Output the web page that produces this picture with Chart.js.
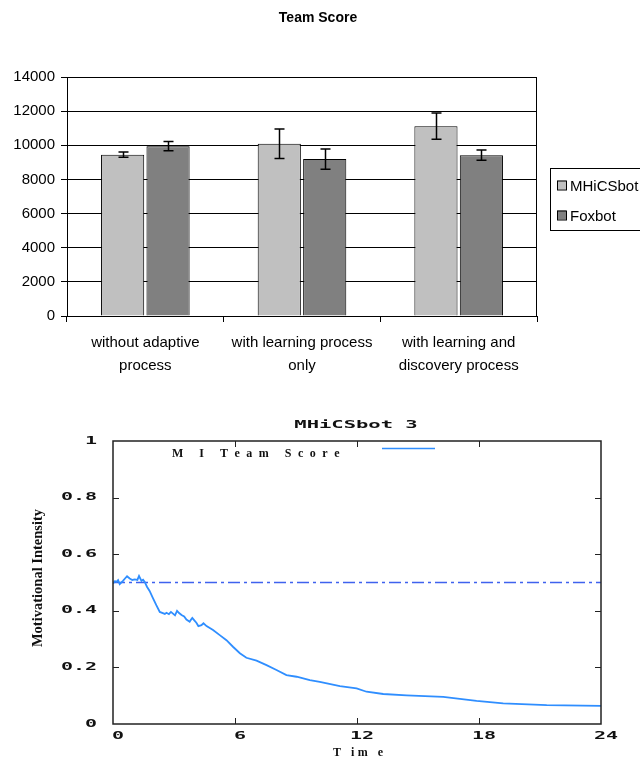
<!DOCTYPE html>
<html>
<head>
<meta charset="utf-8">
<script src="https://cdn.jsdelivr.net/npm/chart.js"></script>
<style>
  body { margin: 0; background: #fff; }
  #wrap { position: relative; width: 640px; height: 760px; }
  canvas { position: absolute; left: 0; }
  #teamChart { top: 0; }
  #miChart { top: 390px; }
</style>
</head>
<body>
<div id="wrap">
  <canvas id="teamChart" width="640" height="390"></canvas>
  <canvas id="miChart" width="640" height="370"></canvas>
</div>
<script>
// top chart data
const categories = [
  ['without adaptive', 'process'],
  ['with learning process', 'only'],
  ['with learning and', 'discovery process']
];
const seriesNames = ['MHiCSbot', 'Foxbot'];
const mhicsScores = [9450, 10090, 11120];
const mhicsErrors = [150, 860, 770];
const foxScores = [9950, 9190, 9420];
const foxErrors = [270, 590, 300];

// bottom chart data
const timeValues = [0, 0.1, 0.17, 0.25, 0.33, 0.49, 0.6, 0.69, 0.82, 0.95, 1.07, 1.2, 1.28, 1.4, 1.48, 1.56, 1.67, 1.8,
  1.97, 2.13, 2.3, 2.45, 2.55, 2.63, 2.75, 2.85, 2.95, 3.05, 3.15, 3.25, 3.37, 3.5, 3.61, 3.77, 3.83, 3.9, 4.0, 4.1, 4.2,
  4.35, 4.45, 4.6, 4.92, 5.25, 5.58, 5.9, 6.24, 6.56, 7.06, 7.55, 8.04, 8.53, 9.03, 9.68, 10.17, 11.16, 11.98, 12.47,
  13.29, 14.44, 16.24, 17.88, 19.19, 21.33, 24];
const miTeamScore = [0.497, 0.505, 0.502, 0.508, 0.494, 0.506, 0.515, 0.522, 0.514, 0.509, 0.511, 0.509, 0.523, 0.506,
  0.51, 0.502, 0.485, 0.47, 0.444, 0.42, 0.396, 0.392, 0.389, 0.393, 0.388, 0.396, 0.39, 0.384, 0.4, 0.392, 0.385, 0.38,
  0.369, 0.361, 0.368, 0.375, 0.366, 0.358, 0.346, 0.349, 0.356, 0.346, 0.332, 0.314, 0.296, 0.273, 0.25, 0.234, 0.224,
  0.208, 0.191, 0.173, 0.167, 0.155, 0.149, 0.134, 0.126, 0.114, 0.106, 0.101, 0.096, 0.082, 0.073, 0.067, 0.064];
const thresholdLevel = 0.5;
const yTicksMI = [0, 0.2, 0.4, 0.6, 0.8, 1];
const xTicksMI = [0, 6, 12, 18, 24];
const yTickLabelsMI = ['0', '0.2', '0.4', '0.6', '0.8', '1'];

const LINE_BLUE = '#2f8eff';
const DASH_BLUE = '#3f62ee';

// --- Team Score: frame, error bars, legend, title
const teamExtras = {
  id: 'teamExtras',
  afterDatasetsDraw(chart) {
    const ctx = chart.ctx;
    const a = chart.chartArea;
    const ys = chart.scales.y;
    ctx.save();
    ctx.strokeStyle = '#000';
    ctx.lineWidth = 1;
    ctx.strokeRect(a.left + 0.5, a.top + 0.5, a.right - a.left - 1, a.bottom - a.top);

    const errs = [mhicsErrors, foxErrors];
    const vals = [mhicsScores, foxScores];
    ctx.lineWidth = 1.5;
    chart.data.datasets.forEach((ds, di) => {
      chart.getDatasetMeta(di).data.forEach((bar, i) => {
        const top = ys.getPixelForValue(vals[di][i] + errs[di][i]);
        const bot = ys.getPixelForValue(vals[di][i] - errs[di][i]);
        const x = Math.round(bar.x) + 0.5;
        ctx.beginPath();
        ctx.moveTo(x, top); ctx.lineTo(x, bot);
        ctx.moveTo(x - 5, top); ctx.lineTo(x + 5, top);
        ctx.moveTo(x - 5, bot); ctx.lineTo(x + 5, bot);
        ctx.stroke();
      });
    });

    // title
    ctx.fillStyle = '#000';
    ctx.font = 'bold 14px "Liberation Sans", Arial, sans-serif';
    ctx.textAlign = 'center';
    ctx.textBaseline = 'middle';
    ctx.fillText('Team Score', 318, 18);

    // legend box
    ctx.lineWidth = 1;
    ctx.strokeRect(550.5, 168.5, 110, 62);
    ctx.font = '15px "Liberation Sans", Arial, sans-serif';
    ctx.textAlign = 'left';
    const rows = [185.5, 215.5];
    chart.data.datasets.forEach((ds, di) => {
      ctx.fillStyle = ds.backgroundColor;
      ctx.fillRect(557, rows[di] - 5, 9, 9);
      ctx.strokeRect(557.5, rows[di] - 4.5, 9, 9);
      ctx.fillStyle = '#000';
      ctx.fillText(ds.label, 570, rows[di] + 1);
    });
    ctx.restore();
  }
};

new Chart(document.getElementById('teamChart'), {
  type: 'bar',
  data: {
    labels: categories,
    datasets: [
      { label: seriesNames[0], data: mhicsScores, backgroundColor: '#c0c0c0', borderColor: '#000', borderWidth: 1 },
      { label: seriesNames[1], data: foxScores, backgroundColor: '#808080', borderColor: '#000', borderWidth: 1 }
    ]
  },
  options: {
    responsive: false,
    animation: false,
    layout: { padding: { left: 0, right: 103, top: 77, bottom: 0 } },
    datasets: { bar: { categoryPercentage: 0.58, barPercentage: 0.95 } },
    plugins: { legend: { display: false }, tooltip: { enabled: false } },
    scales: {
      x: {
        grid: { drawOnChartArea: false, drawTicks: true, tickLength: 6, color: '#000', offset: true },
        border: { color: '#000' },
        ticks: { color: '#000', padding: 10, maxRotation: 0, autoSkip: false,
          font: { family: '"Liberation Sans", Arial, sans-serif', size: 15, lineHeight: 1.5 } },
        afterFit(s) { s.height = 74; }
      },
      y: {
        min: 0, max: 14000,
        grid: { color: '#000', tickLength: 6 },
        border: { color: '#000' },
        ticks: { stepSize: 2000, color: '#000', padding: 6, callback: v => String(v),
          font: { family: '"Liberation Sans", Arial, sans-serif', size: 15 } },
        afterFit(s) { s.width = 67; }
      }
    }
  },
  plugins: [teamExtras]
});

// --- MHiCSbot 3 line chart
function stretchText(ctx, text, x, y, sx, align) {
  ctx.save();
  ctx.translate(x, y);
  ctx.scale(sx, 1);
  ctx.textAlign = align;
  ctx.textBaseline = 'middle';
  ctx.fillText(text, 0, 0);
  ctx.restore();
}

function spacedText(ctx, text, x, y, gap) {
  let cx = x;
  ctx.textAlign = 'left';
  ctx.textBaseline = 'middle';
  for (const ch of text) {
    ctx.fillText(ch, cx, y);
    cx += ctx.measureText(ch).width + gap;
  }
}

const miExtras = {
  id: 'miExtras',
  afterDraw(chart) {
    const ctx = chart.ctx;
    const a = chart.chartArea;
    const xs = chart.scales.x, ys = chart.scales.y;
    ctx.save();
    ctx.strokeStyle = '#222';
    ctx.lineWidth = 1.5;
    ctx.strokeRect(a.left, a.top, a.right - a.left, a.bottom - a.top);

    ctx.lineWidth = 1;
    ctx.beginPath();
    yTicksMI.slice(1, -1).forEach(v => {
      const y = Math.round(ys.getPixelForValue(v)) + 0.5;
      ctx.moveTo(a.left, y); ctx.lineTo(a.left + 6, y);
      ctx.moveTo(a.right, y); ctx.lineTo(a.right - 6, y);
    });
    xTicksMI.slice(1, -1).forEach(v => {
      const x = Math.round(xs.getPixelForValue(v)) + 0.5;
      ctx.moveTo(x, a.bottom); ctx.lineTo(x, a.bottom - 6);
      ctx.moveTo(x, a.top); ctx.lineTo(x, a.top + 6);
    });
    ctx.stroke();

    ctx.fillStyle = '#111';
    ctx.font = 'bold 10px "DejaVu Sans Mono", monospace';
    yTicksMI.forEach((v, i) => stretchText(ctx, yTickLabelsMI[i], 97, ys.getPixelForValue(v), 2, 'right'));
    xTicksMI.forEach(v => stretchText(ctx, String(v), xs.getPixelForValue(v) + 5, 346, 2, 'center'));
    stretchText(ctx, 'MHiCSbot 3', 356, 35, 2.05, 'center');

    // legend inside plot
    ctx.font = 'bold 12px "Liberation Serif", "Times New Roman", serif';
    spacedText(ctx, 'M I Team Score', 172, 64, 6.5);
    ctx.strokeStyle = LINE_BLUE;
    ctx.lineWidth = 1.5;
    ctx.beginPath();
    ctx.moveTo(382, 58.5); ctx.lineTo(435, 58.5);
    ctx.stroke();

    // axis titles
    ctx.fillStyle = '#111';
    ctx.font = 'bold 12px "Liberation Serif", "Times New Roman", serif';
    const tw = (() => { let w = 0; for (const ch of 'T im e') w += ctx.measureText(ch).width + 3.5; return w - 3.5; })();
    spacedText(ctx, 'T im e', 358 - tw / 2, 363, 3.5);
    ctx.save();
    ctx.translate(38, 188);
    ctx.rotate(-Math.PI / 2);
    ctx.font = 'bold 14.5px "Liberation Serif", "Times New Roman", serif';
    ctx.textAlign = 'center';
    ctx.textBaseline = 'middle';
    ctx.fillText('Motivational Intensity', 0, 0);
    ctx.restore();
    ctx.restore();
  }
};

new Chart(document.getElementById('miChart'), {
  type: 'line',
  data: {
    datasets: [
      {
        label: 'M I Team Score',
        data: timeValues.map((t, i) => ({ x: t, y: miTeamScore[i] })),
        borderColor: LINE_BLUE, borderWidth: 1.8, pointRadius: 0, tension: 0
      },
      {
        label: 'threshold',
        data: [{ x: xTicksMI[0], y: thresholdLevel }, { x: xTicksMI[xTicksMI.length - 1], y: thresholdLevel }],
        borderColor: DASH_BLUE, borderWidth: 1.5, borderDash: [12, 4, 3, 4], pointRadius: 0
      }
    ]
  },
  options: {
    responsive: false,
    animation: false,
    layout: { padding: { left: 113, right: 39, top: 51, bottom: 36 } },
    plugins: { legend: { display: false }, tooltip: { enabled: false } },
    scales: {
      x: { type: 'linear', min: 0, max: 24, display: false },
      y: { min: 0, max: 1, display: false }
    }
  },
  plugins: [miExtras]
});
</script>
</body>
</html>
